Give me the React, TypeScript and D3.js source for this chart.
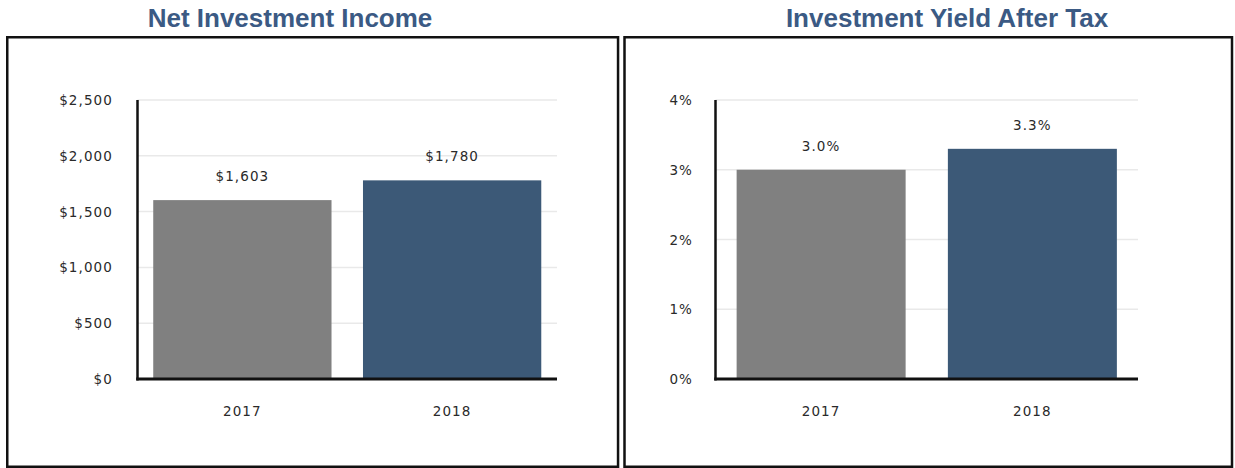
import React from "react";
import * as d3 from "d3";

const years = ["2017", "2018"];
const incomeValues = [1603, 1780];
const incomeTicks = [0, 500, 1000, 1500, 2000, 2500];
const yieldValues = [3.0, 3.3];
const yieldTicks = [0, 1, 2, 3, 4];
const barColors = ["#808080", "#3c5977"];

const fmtDollar = (v: number) => "$" + d3.format(",")(v);
const fmtPct = (v: number) => v + "%";
const fmtPct1 = (v: number) => d3.format(".1f")(v) + "%";

type PanelProps = {
  title: string;
  titleX: number;
  frameX: number;
  frameW: number;
  axisX: number;
  plotRight: number;
  values: number[];
  ticks: number[];
  max: number;
  padInner: number;
  tickFmt: (v: number) => string;
  valFmt: (v: number) => string;
  tickLabelX: number;
};

const TOP = 100;
const BASE = 379;
const FONT = "'DejaVu Sans', Verdana, sans-serif";
const FS = 13.5;
const LS = 1.1;
const TXT = "#2a2a2a";

function Panel(p: PanelProps) {
  const y = d3.scaleLinear().domain([0, p.max]).range([BASE, TOP]);
  const x = d3
    .scaleBand<string>()
    .domain(years)
    .range([p.axisX, p.plotRight])
    .paddingInner(p.padInner)
    .paddingOuter(p.padInner / 2);
  return (
    <g>
      <text
        x={p.titleX}
        y={27}
        textAnchor="middle"
        fontFamily="'Liberation Sans', Arial, sans-serif"
        fontWeight="bold"
        fontSize={26}
        fill="#3b5a84"
      >
        {p.title}
      </text>
      <rect
        x={p.frameX}
        y={37.25}
        width={p.frameW}
        height={429.5}
        fill="#fff"
        stroke="#111"
        strokeWidth={2.5}
      />
      {p.ticks.map((t) => (
        <g key={t}>
          {t > 0 && (
            <line
              x1={p.axisX}
              x2={p.plotRight}
              y1={y(t)}
              y2={y(t)}
              stroke="#e9e9e9"
              strokeWidth={1.5}
            />
          )}
          <text
            x={p.tickLabelX}
            y={y(t) + 1}
            textAnchor="end"
            dominantBaseline="middle"
            fontFamily={FONT}
            fontSize={FS}
            letterSpacing={LS}
            fill={TXT}
          >
            {p.tickFmt(t)}
          </text>
        </g>
      ))}
      {years.map((yr, i) => (
        <g key={yr}>
          <rect
            x={x(yr)}
            y={y(p.values[i])}
            width={x.bandwidth()}
            height={BASE - y(p.values[i])}
            fill={barColors[i]}
          />
          <text
            x={(x(yr) as number) + x.bandwidth() / 2}
            y={y(p.values[i]) - 23}
            textAnchor="middle"
            dominantBaseline="middle"
            fontFamily={FONT}
            fontSize={FS}
            letterSpacing={LS}
            fill={TXT}
          >
            {p.valFmt(p.values[i])}
          </text>
          <text
            x={(x(yr) as number) + x.bandwidth() / 2}
            y={412}
            textAnchor="middle"
            dominantBaseline="middle"
            fontFamily={FONT}
            fontSize={FS}
            letterSpacing={LS}
            fill={TXT}
          >
            {yr}
          </text>
        </g>
      ))}
      <line
        x1={p.axisX}
        x2={p.axisX}
        y1={TOP}
        y2={BASE + 1.5}
        stroke="#111"
        strokeWidth={2.5}
      />
      <line
        x1={p.axisX - 1.25}
        x2={p.plotRight}
        y1={BASE}
        y2={BASE}
        stroke="#111"
        strokeWidth={3}
      />
    </g>
  );
}

export default function App() {
  return (
    <svg
      width={1235}
      height={468}
      style={{ position: "absolute", left: 0, top: 0, background: "#fff" }}
    >
      <Panel
        title="Net Investment Income"
        titleX={290}
        frameX={7.25}
        frameW={610.8}
        axisX={137.5}
        plotRight={557}
        values={incomeValues}
        ticks={incomeTicks}
        max={2500}
        padInner={0.15}
        tickFmt={fmtDollar}
        valFmt={fmtDollar}
        tickLabelX={113}
      />
      <Panel
        title="Investment Yield After Tax"
        titleX={947}
        frameX={624.5}
        frameW={607.5}
        axisX={715.5}
        plotRight={1138}
        values={yieldValues}
        ticks={yieldTicks}
        max={4}
        padInner={0.2}
        tickFmt={fmtPct}
        valFmt={fmtPct1}
        tickLabelX={693}
      />
    </svg>
  );
}
